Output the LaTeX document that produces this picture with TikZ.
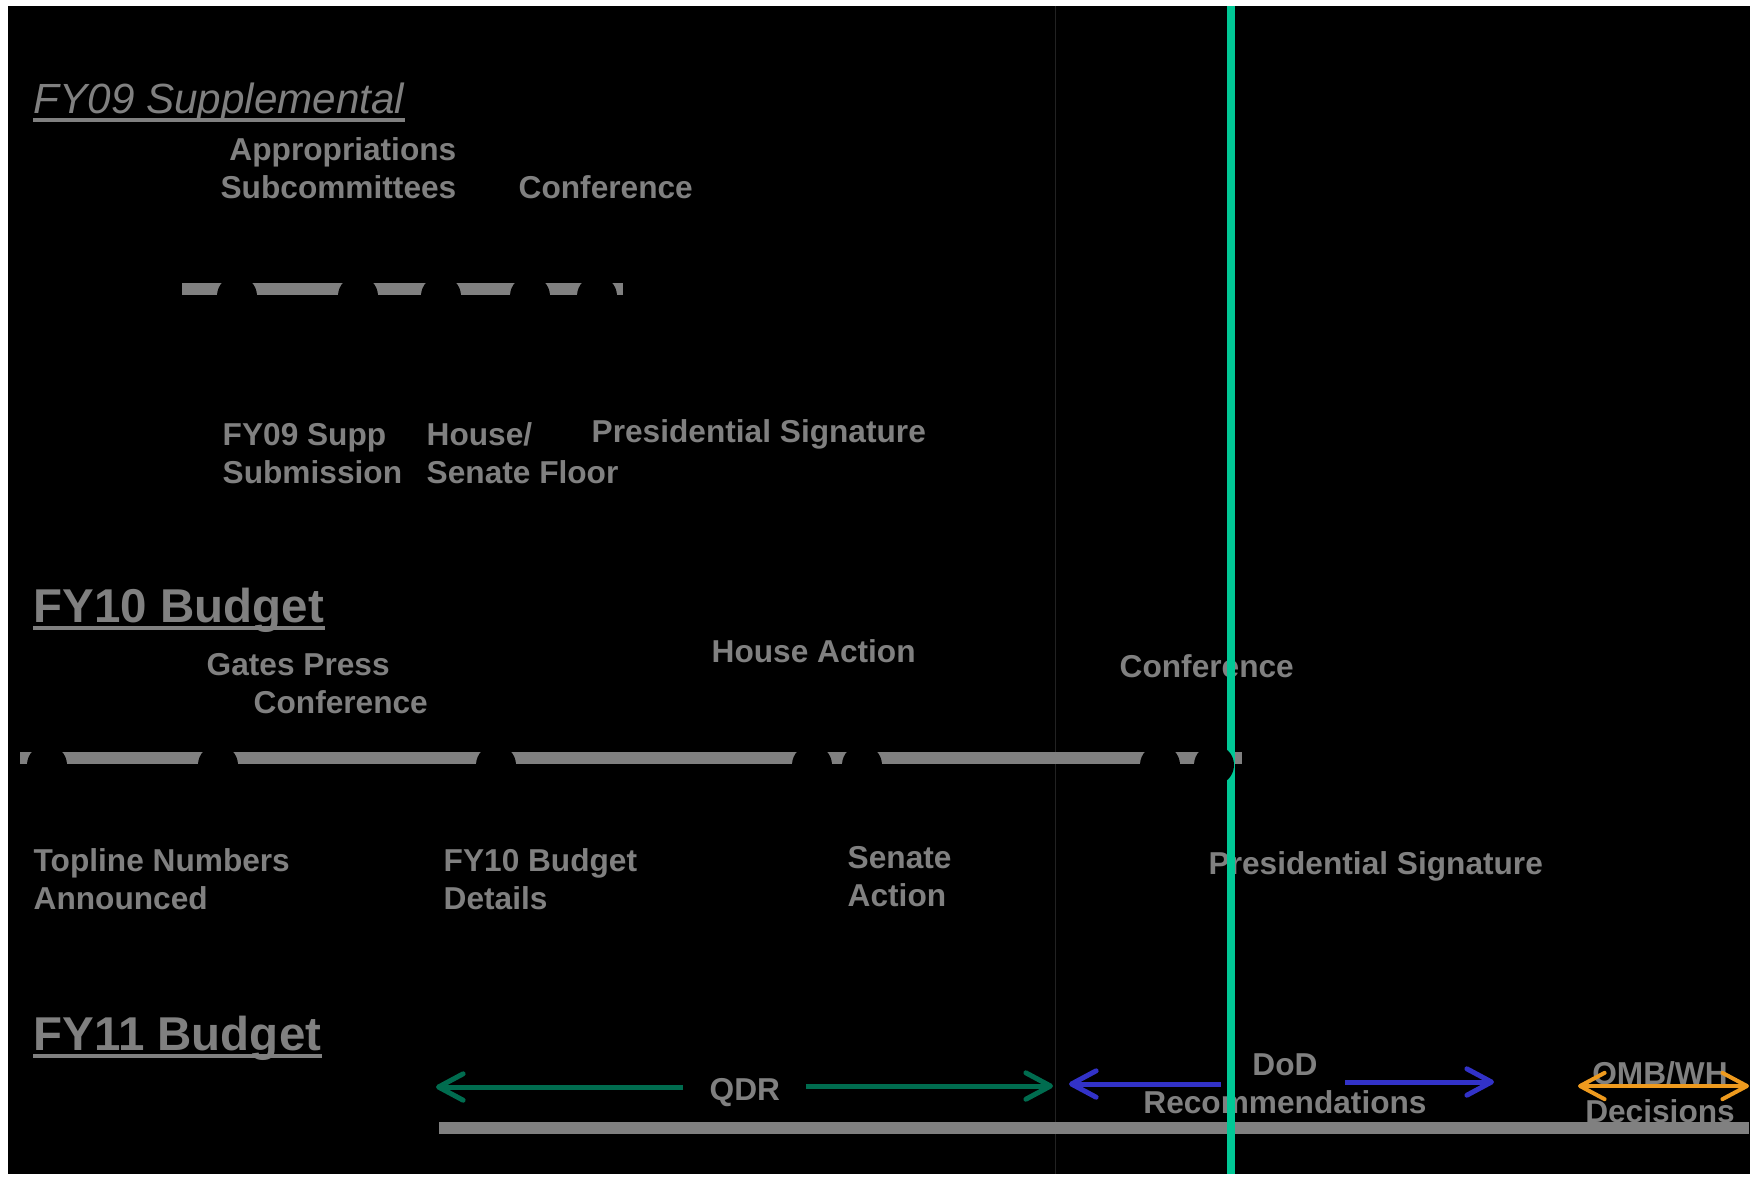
\documentclass[tikz,border=0pt]{standalone}
\usepackage{fontspec}
\setmainfont{Liberation Sans}
\usetikzlibrary{arrows.meta}
\definecolor{textGray}{HTML}{808080}
\definecolor{qdrGreen}{HTML}{006C4F}
\definecolor{dodBlue}{HTML}{3232C8}
\definecolor{ombOrange}{HTML}{EE9A1E}
\definecolor{nowTeal}{HTML}{00C896}
\definecolor{faintLine}{HTML}{222222}
\begin{document}
\begin{tikzpicture}[x=0.01cm, y=-0.01cm,
    labelStyle/.style={text=textGray, font=\fontsize{9}{10.8}\selectfont\bfseries, inner sep=0, anchor=north west, align=left},
    headStyle/.style={text=textGray, font=\fontsize{13.5}{16}\selectfont\bfseries, inner sep=0, anchor=base west},
    underStyle/.style={draw=textGray, line width=0.04cm},
    barStyle/.style={draw=textGray, line width=0.12cm},
    dotStyle/.style={circle, fill=black, inner sep=0, minimum size=0.4cm},
    spanTip/.tip={Straight Barb[length=7pt, width=7.5pt, round]},
    spanArrow/.style={line width=0.05cm, -spanTip}]
    % page and background
    \fill[white] (0,0) rectangle (1761,1174);
    \fill[black] (8,6) rectangle (1750,1174);
    \draw[faintLine, line width=0.01cm] (1055,6) -- (1055,1174);

    % FY09 supplemental
    \node[headStyle, font=\fontsize{12}{14}\selectfont\itshape](fy09Head) at (33,113) {FY09 Supplemental};
    \draw[underStyle] ([yshift=-0.07cm]fy09Head.base west) -- ([yshift=-0.07cm]fy09Head.base east);
    \node[labelStyle, anchor=north east, align=right](apprSub) at (457,137) {Appropriations\\Subcommittees};
    \node[labelStyle](fy09Conf) at (518,175) {Conference};
    \node[labelStyle](fy09Submit) at (222,423) {FY09 Supp\\Submission};
    \node[labelStyle](fy09Floor) at (426,422) {House/\\Senate Floor};
    \node[labelStyle](fy09Sign) at (591,419) {Presidential Signature};
    \coordinate (fy09Start) at (182,289);
    \coordinate (fy09End) at (623,289);
    \draw[barStyle] (fy09Start) -- (fy09End);

    % FY10 budget
    \node[headStyle](fy10Head) at (33,622) {FY10 Budget};
    \draw[underStyle, line width=0.045cm] ([yshift=-0.06cm]fy10Head.base west) -- ([yshift=-0.06cm]fy10Head.base east);
    \node[labelStyle](gatesPress) at (206,653) {Gates Press\\\hspace*{0.47cm}Conference};
    \node[labelStyle](houseAction) at (711,639) {House Action};
    \node[labelStyle](fy10Conf) at (1119,654) {Conference};
    \node[labelStyle](topline) at (33,848) {Topline Numbers\\Announced};
    \node[labelStyle](fy10Details) at (443,848) {FY10 Budget\\Details};
    \node[labelStyle](senateAction) at (847,846) {Senate\\Action};
    \node[labelStyle](fy10Sign) at (1208,851) {Presidential Signature};
    \coordinate (fy10Start) at (20,758);
    \coordinate (fy10End) at (1242,758);
    \draw[barStyle] (fy10Start) -- (fy10End);

    % FY11 budget
    \node[headStyle](fy11Head) at (33,1050) {FY11 Budget};
    \draw[underStyle, line width=0.045cm] ([yshift=-0.06cm]fy11Head.base west) -- ([yshift=-0.06cm]fy11Head.base east);
    \node[labelStyle](qdr) at (709,1078) {QDR};
    \node[labelStyle, anchor=north, align=center](dodRec) at (1285,1053) {DoD\\Recommendations};
    \node[labelStyle, anchor=north, align=center](ombDec) at (1660,1061) {OMB/WH\\Decisions};
    \coordinate (fy11Start) at (439,1128);
    \coordinate (fy11End) at (1749,1128);
    \draw[barStyle] (fy11Start) -- (fy11End);

    \coordinate (qdrLeftTail) at (683,1087);
    \coordinate (qdrLeftTip) at (436,1087);
    \coordinate (qdrRightTail) at (806,1086);
    \coordinate (qdrRightTip) at (1053,1086);
    \coordinate (dodLeftTail) at (1221,1084);
    \coordinate (dodLeftTip) at (1069,1084);
    \coordinate (dodRightTail) at (1345,1082);
    \coordinate (dodRightTip) at (1494,1082);
    \coordinate (ombLeft) at (1578,1086);
    \coordinate (ombRight) at (1749,1086);
    \draw[spanArrow, qdrGreen] (qdrLeftTail) -- (qdrLeftTip);
    \draw[spanArrow, qdrGreen] (qdrRightTail) -- (qdrRightTip);
    \draw[spanArrow, dodBlue] (dodLeftTail) -- (dodLeftTip);
    \draw[spanArrow, dodBlue] (dodRightTail) -- (dodRightTip);
    \draw[spanArrow, ombOrange, line width=0.04cm, spanTip-spanTip] (ombLeft) -- (ombRight);

    % today line
    \coordinate (nowTop) at (1231,6);
    \coordinate (nowBottom) at (1231,1174);
    \draw[nowTeal, line width=0.08cm] (nowTop) -- (nowBottom);

    % milestone markers
    \node[dotStyle](fy09m1) at (237,296) {};
    \node[dotStyle](fy09m2) at (358,296) {};
    \node[dotStyle](fy09m3) at (441,296) {};
    \node[dotStyle](fy09m4) at (530,296) {};
    \node[dotStyle](fy09m5) at (597,296) {};
    \node[dotStyle](fy10m1) at (47,765) {};
    \node[dotStyle](fy10m2) at (218,765) {};
    \node[dotStyle](fy10m3) at (496,765) {};
    \node[dotStyle](fy10m4) at (812,765) {};
    \node[dotStyle](fy10m5) at (862,765) {};
    \node[dotStyle](fy10m6) at (1160,765) {};
    \node[dotStyle](fy10m7) at (1214,765) {};
\end{tikzpicture}
\end{document}
